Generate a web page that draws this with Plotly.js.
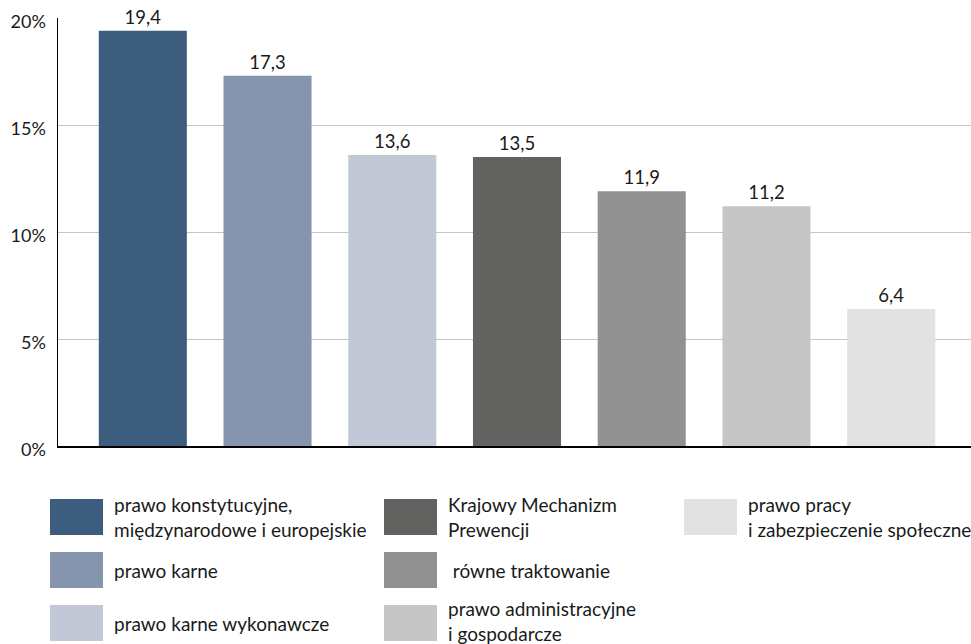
<!DOCTYPE html>
<html>
<head>
<meta charset="utf-8">
<script src="https://cdn.plot.ly/plotly-3.0.1.min.js"></script>
<style>html,body{margin:0;padding:0;background:#fff;}#chart{width:971px;height:644px;}</style>
</head>
<body>
<div id="chart"></div>
<script>
const categories = [
  "prawo konstytucyjne,<br>międzynarodowe i europejskie",
  "prawo karne",
  "prawo karne wykonawcze",
  "Krajowy Mechanizm<br>Prewencji",
  " równe traktowanie",
  "prawo administracyjne<br>i gospodarcze",
  "prawo pracy<br>i zabezpieczenie społeczne"
];
const values = [19.4, 17.3, 13.6, 13.5, 11.9, 11.2, 6.4];
const colors = ["#3d5d7e", "#8595ae", "#c2c8d5", "#626261", "#919191", "#c5c6c5", "#e2e2e2"];
const yTicks = [0, 5, 10, 15, 20];

const W = 971, H = 644;
const L = 58, R = 0, T = 18, B = 198;
const pw = W - L - R, ph = H - T - B;
const px = x => (x - L) / pw;
const py = y => (H - B - y) / ph;

const shapes = [];
const annotations = [];
const colX = [50, 384, 684];
const rowY = [517, 570, 623];
const swW = 53, swH = 36;
categories.forEach((c, i) => {
  const col = Math.floor(i / 3), row = i % 3;
  const x0 = colX[col], yc = rowY[row];
  shapes.push({type: 'rect', xref: 'paper', yref: 'paper',
    x0: px(x0), x1: px(x0 + swW), y0: py(yc + swH / 2), y1: py(yc - swH / 2),
    fillcolor: colors[i], line: {width: 0}, layer: 'above'});
  const lines = c.split('<br>').length;
  annotations.push({xref: 'paper', yref: 'paper', x: px(x0 + 62), y: py(yc - (lines > 1 && row === 2 ? 2 : 0)),
    xanchor: 'left', yanchor: 'middle', align: 'left', showarrow: false,
    text: c, font: {family: 'Lato', size: 19, color: '#1a1a1a'}});
});

const trace = {
  type: 'bar',
  x: categories,
  y: values,
  marker: {color: colors, line: {width: 0}},
  width: 0.706,
  text: values,
  texttemplate: '%{y:.1f}',
  textposition: 'outside',
  textfont: {family: 'Lato', size: 18.5, color: '#1a1a1a'},
  cliponaxis: false,
  hoverinfo: 'none'
};

const layout = {
  width: W, height: H,
  margin: {l: L, r: R, t: T, b: B, pad: 0},
  paper_bgcolor: '#fff', plot_bgcolor: '#fff',
  separators: ', ',
  showlegend: false,
  bargap: 0.3,
  font: {family: 'Lato', size: 18, color: '#1a1a1a'},
  xaxis: {range: [-0.68, 6.64], showticklabels: false, ticks: '', showgrid: false,
    showline: true, linecolor: '#000', linewidth: 1.5, zeroline: false, fixedrange: true},
  yaxis: {range: [0, 20], tickvals: yTicks, ticktext: yTicks.map(v => v + '%'),
    showgrid: true, gridcolor: '#c4c4c4', gridwidth: 1,
    showline: true, linecolor: '#000', linewidth: 1.5, zeroline: false,
    ticks: '', ticklabelstandoff: 7, ticklabelshift: 4,
    tickfont: {family: 'Lato', size: 18, color: '#1a1a1a'}, fixedrange: true},
  shapes: shapes,
  annotations: annotations
};

Plotly.newPlot('chart', [trace], layout, {displayModeBar: false, staticPlot: true});
</script>
</body>
</html>
